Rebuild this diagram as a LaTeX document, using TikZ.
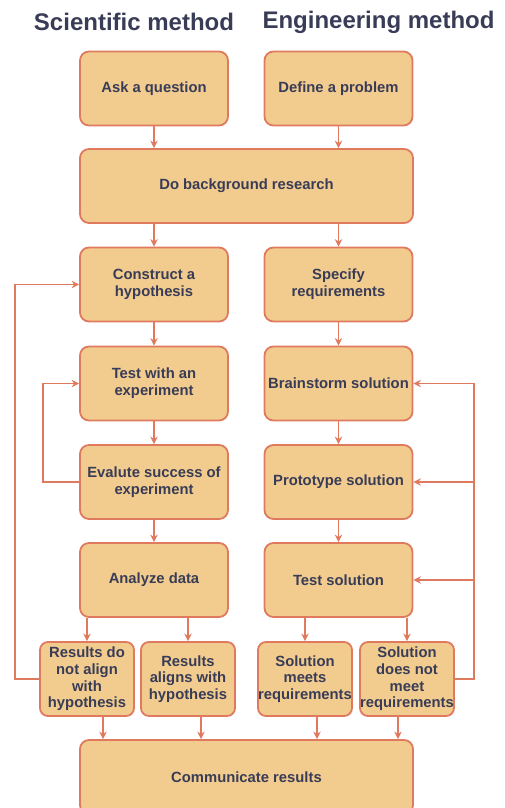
\documentclass[tikz,border=0pt]{standalone}
\usepackage{fontspec}
\setmainfont{Liberation Sans}
\usetikzlibrary{arrows.meta}
\definecolor{boxfill}{HTML}{F2CC8F}
\definecolor{boxline}{HTML}{E07A5F}
\definecolor{txt}{HTML}{393C56}
\tikzset{
  box/.style={draw=boxline, fill=boxfill, line width=1.8pt, rounded corners=9pt,
    text=txt, font=\fontsize{14.8}{16.7}\selectfont\bfseries, align=center, inner sep=0pt},
  wbox/.style={box, minimum width=148pt, minimum height=74pt},
  sbox/.style={box, minimum width=94pt, minimum height=74pt, rounded corners=8pt},
  head/.style={text=txt, font=\fontsize{24}{28}\selectfont\bfseries, inner sep=0pt},
  arr/.style={draw=boxline, line width=1.2pt, -{Stealth[length=7.5pt,width=7.5pt]}}
}
\begin{document}
\begin{tikzpicture}[x=1pt,y=-1pt]
\useasboundingbox (0,0) rectangle (504,808);
\node[head] (h1) at (134,22) {Scientific method};
\node[head] (h2) at (378.5,22) {Engineering method};
\node[wbox] (ask) at (154,88.5) {Ask a question};
\node[wbox] (def) at (338.5,88.5) {Define a problem};
\node[box, minimum width=333pt, minimum height=74pt] (bg) at (246.5,186) {Do background research};
\node[wbox] (hyp) at (154,284.5) {Construct a\\hypothesis};
\node[wbox] (spec) at (338.5,284.5) {Specify\\requirements};
\node[wbox] (test) at (154,383.5) {Test with an\\experiment};
\node[wbox] (brain) at (338.5,383.5) {Brainstorm solution};
\node[wbox] (eval) at (154,482) {Evalute success of\\experiment};
\node[wbox] (proto) at (338.5,482) {Prototype solution};
\node[wbox] (an) at (154,580) {Analyze data};
\node[wbox] (tsol) at (338.5,580) {Test solution};
\node[sbox] (r1) at (87,679) {Results do\\not align\\with\\hypothesis};
\node[sbox] (r2) at (188,679) {Results\\aligns with\\hypothesis};
\node[sbox] (s1) at (305,679) {Solution\\meets\\requirements};
\node[sbox] (s2) at (407,679) {Solution\\does not\\meet\\requirements};
\node[box, minimum width=333pt, minimum height=74pt] (comm) at (246.5,777) {Communicate results};
% vertical flow
\draw[arr] (ask.south) -- (ask.south |- bg.north);
\draw[arr] (def.south) -- (def.south |- bg.north);
\draw[arr] (bg.south -| hyp.north) -- (hyp.north);
\draw[arr] (bg.south -| spec.north) -- (spec.north);
\draw[arr] (hyp) -- (test);
\draw[arr] (test) -- (eval);
\draw[arr] (eval) -- (an);
\draw[arr] (spec) -- (brain);
\draw[arr] (brain) -- (proto);
\draw[arr] (proto) -- (tsol);
\draw[arr] (an.south -| r1.north) -- (r1.north);
\draw[arr] (an.south -| r2.north) -- (r2.north);
\draw[arr] (tsol.south -| s1.north) -- (s1.north);
\draw[arr] (tsol.south -| s2.north) -- (s2.north);
\draw[arr] ([xshift=16pt]r1.south) -- ([xshift=16pt]r1.south |- comm.north);
\draw[arr] ([xshift=13pt]r2.south) -- ([xshift=13pt]r2.south |- comm.north);
\draw[arr] ([xshift=12pt]s1.south) -- ([xshift=12pt]s1.south |- comm.north);
\draw[arr] ([xshift=-9pt]s2.south) -- ([xshift=-9pt]s2.south |- comm.north);
% loops
\coordinate (lx) at (15,679);
\coordinate (ix) at (43,482);
\coordinate (rx) at (474,679);
\draw[arr] (r1.west) -- (lx) |- (hyp.west);
\draw[arr] (eval.west) -- (ix) |- (test.west);
\draw[arr] (s2.east) -- (rx) |- (brain.east);
\draw[arr] (rx |- proto.east) -- (proto.east);
\draw[arr] (rx |- tsol.east) -- (tsol.east);
\end{tikzpicture}
\end{document}
